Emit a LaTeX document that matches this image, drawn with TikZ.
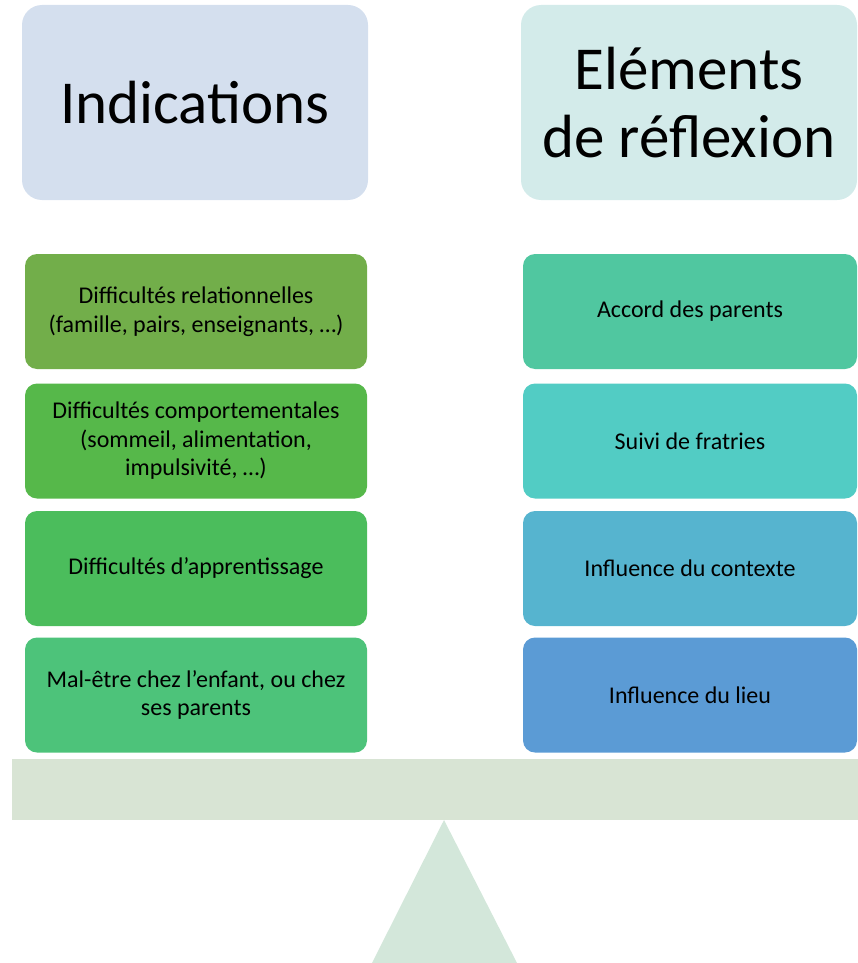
\documentclass[tikz,border=0pt]{standalone}
\usepackage{fontspec}
\setmainfont{Carlito}
\usepackage{tikz}
\usetikzlibrary{shapes.geometric, positioning, calc}

\definecolor{titleblue}{RGB}{212,223,238}
\definecolor{titleteal}{RGB}{211,235,234}
\definecolor{indA}{RGB}{114,174,74}
\definecolor{indB}{RGB}{86,184,74}
\definecolor{indC}{RGB}{75,189,92}
\definecolor{indD}{RGB}{77,195,122}
\definecolor{elemA}{RGB}{80,199,160}
\definecolor{elemB}{RGB}{82,204,196}
\definecolor{elemC}{RGB}{86,180,207}
\definecolor{elemD}{RGB}{91,155,213}
\definecolor{beamgreen}{RGB}{216,228,212}
\definecolor{pivotgreen}{RGB}{211,231,218}

\begin{document}
\begin{tikzpicture}[x=1pt,y=-1pt,every node/.style={outer sep=0pt,inner sep=0pt}]
\tikzstyle{titlebox}=[rounded corners=20pt,align=center,font=\fontsize{61}{68}\selectfont]
\tikzstyle{item}=[rounded corners=12pt,align=center,minimum height=115pt,font=\fontsize{24}{28.5}\selectfont]
\tikzstyle{leftitem}=[item,minimum width=342pt]
\tikzstyle{rightitem}=[item,minimum width=334pt]

\useasboundingbox (0,0) rectangle (858,963);

% titles
\node (titleL) [titlebox,fill=titleblue,minimum width=346pt,minimum height=195pt] at (195,102.5) {Indications};
\node (titleR) [titlebox,fill=titleteal,minimum width=336pt,minimum height=195pt] at (689,102.5) {Eléments\\de réflexion};

% left column
\node (ind1) [leftitem,fill=indA] at (196,311.5) {Difficultés relationnelles\\(famille, pairs, enseignants, …)};
\node (ind2) [leftitem,fill=indB] at (196,441) {Difficultés comportementales\\(sommeil, alimentation,\\impulsivité, …)};
\node (ind3) [leftitem,fill=indC] at (196,568.5) {Difficultés d’apprentissage};
\node (ind4) [leftitem,fill=indD] at (196,695) {Mal-être chez l’enfant, ou chez\\ses parents};

% right column
\node (elem1) [rightitem,fill=elemA] at (690,311.5) {Accord des parents};
\node (elem2) [rightitem,fill=elemB] at (690,441) {Suivi de fratries};
\node (elem3) [rightitem,fill=elemC] at (690,568.5) {Influence du contexte};
\node (elem4) [rightitem,fill=elemD] at (690,695) {Influence du lieu};

% balance
\node (beam) [fill=beamgreen,minimum width=846pt,minimum height=61pt,anchor=north west] at (12,759) {};
\coordinate (apex) at (beam.south -| 444,0);
\fill [pivotgreen] (apex) -- (517,963) -- (372,963) -- cycle;
\end{tikzpicture}
\end{document}
